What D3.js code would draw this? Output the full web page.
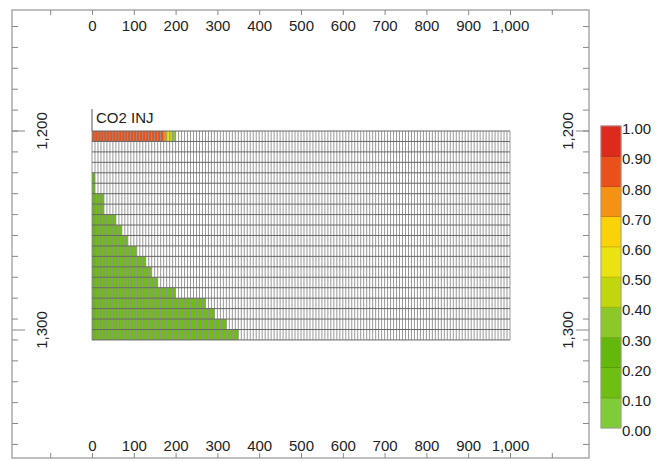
<!DOCTYPE html>
<html><head><meta charset="utf-8">
<script src="https://cdn.jsdelivr.net/npm/d3@7"></script>
<style>body{margin:0;background:#fff}svg{display:block}text{font-family:"Liberation Sans",Arial,sans-serif;fill:#222}</style>
</head><body><svg id="c" width="663" height="461"></svg>
<script>
// ---- data ----
const xTickValues = [-100,0,100,200,300,400,500,600,700,800,900,1000,1100];
const xLabelValues = [0,100,200,300,400,500,600,700,800,900,1000];
const depthLabels = [1200,1300];
const colorBreaks = [0,0.1,0.2,0.3,0.4,0.5,0.6,0.7,0.8,0.9,1.0];
const colorBands = ["#80cc38","#6ebf12","#64b80c","#8cc828","#c2d60e","#ebe213","#fad20a","#f39213","#e9501a","#dd2a1d"];
const nCols = 140, modelWidth = 1000;      // lateral cells
const nRows = 20, rowThick = 5.25;         // vertical cells (m)
const topDepth = 1200;
const topRowValues = [0.85,0.85,0.85,0.85,0.85,0.85,0.85,0.85,0.85,0.85,0.85,0.85,0.85,0.85,0.85,0.85,0.85,0.85,0.85,0.85,0.85,0.85,0.85,0.85,0.75,0.55,0.45,0.35];
const plumeCols = [0,0,0,0,1,1,4,4,8,10,12,15,18,20,22,28,38,41,45,49];
const plumeValue = 0.15, plumeEdgeValue = 0.25;
const wellLabel = "CO2 INJ";

// ---- build cells ----
const colWidth = modelWidth / nCols;
const cells = [];
for (let r = 0; r < nRows; r++) {
  for (let c = 0; c < nCols; c++) {
    let v = null;
    if (r === 0) { if (c < topRowValues.length) v = topRowValues[c]; }
    else if (c < plumeCols[r]) v = (c === 0 ? plumeEdgeValue : plumeValue);
    cells.push({r, c, v});
  }
}

const svg = d3.select("#c");
const x = d3.scaleLinear().domain([0,1000]).range([92,510]);
const y = d3.scaleLinear().domain([1200,1300]).range([131,330]);
const color = d3.scaleThreshold().domain(colorBreaks.slice(1,-1)).range(colorBands);
const fmt = d3.format(",");

const frame = {l:12, t:10, r:589, b:458};
svg.append("rect").attr("x",frame.l).attr("y",frame.t).attr("width",frame.r-frame.l).attr("height",frame.b-frame.t)
  .attr("fill","none").attr("stroke","#aaa").attr("stroke-width",1.5);

// cells
const g = svg.append("g");
g.selectAll("rect.cell").data(cells.filter(d=>d.v!==null)).join("rect")
  .attr("x",d=>x(d.c*colWidth)).attr("y",d=>y(topDepth+d.r*rowThick))
  .attr("width",x(colWidth)-x(0)).attr("height",y(topDepth+rowThick)-y(topDepth))
  .attr("fill",d=>color(d.v));
// grid lines
g.selectAll("line.v").data(d3.range(nCols+1)).join("line")
  .attr("x1",d=>x(d*colWidth)).attr("x2",d=>x(d*colWidth))
  .attr("y1",y(topDepth)).attr("y2",y(topDepth+nRows*rowThick))
  .attr("stroke","#8c8c8c").attr("stroke-width",0.9);
g.selectAll("line.h").data(d3.range(nRows+1)).join("line")
  .attr("y1",d=>y(topDepth+d*rowThick)).attr("y2",d=>y(topDepth+d*rowThick))
  .attr("x1",x(0)).attr("x2",x(modelWidth))
  .attr("stroke","#666").attr("stroke-width",1);

// well
svg.append("line").attr("x1",x(0)).attr("x2",x(0)).attr("y1",109).attr("y2",y(topDepth))
  .attr("stroke","#555").attr("stroke-width",1);
svg.append("text").attr("x",x(0)+4).attr("y",123).attr("font-size",15).text(wellLabel);

// x axes
function xAxis(axis, ty){
  const a = svg.append("g").attr("transform",`translate(0,${ty})`)
    .call(axis.tickValues(xTickValues).tickSize(5)
      .tickFormat(d=>xLabelValues.includes(d)?fmt(d):""));
  a.select(".domain").remove();
  a.selectAll(".tick line").attr("stroke","#888");
  a.selectAll(".tick text").attr("font-size",15).attr("fill","#222").attr("font-family","Liberation Sans, Arial, sans-serif");
  return a;
}
xAxis(d3.axisBottom(x).tickPadding(5), frame.t);
xAxis(d3.axisTop(x).tickPadding(2), frame.b);

// y axes
const minorTicks = d3.range(-5,16).map(k=>topDepth + k*2*rowThick);
[[frame.l,1],[frame.r,-1]].forEach(([ax,dir])=>{
  svg.selectAll(null).data(minorTicks).join("line")
    .attr("x1",ax).attr("x2",ax+dir*6).attr("y1",d=>y(d)).attr("y2",d=>y(d))
    .attr("stroke","#888");
  svg.selectAll(null).data(depthLabels).join("line")
    .attr("x1",ax).attr("x2",ax+dir*13).attr("y1",d=>y(d)).attr("y2",d=>y(d))
    .attr("stroke","#888");
});
[42,568].forEach(lx=>{
  svg.selectAll(null).data(depthLabels).join("text")
    .attr("transform",d=>`translate(${lx},${y(d)}) rotate(-90)`)
    .attr("text-anchor","middle").attr("dy","0.35em").attr("font-size",15)
    .text(d=>fmt(d));
});

// colour bar
const cb = d3.scaleLinear().domain([0,1]).range([428,126]);
const cbx = 601, cbw = 20;
svg.selectAll("rect.band").data(colorBands).join("rect")
  .attr("x",cbx).attr("width",cbw)
  .attr("y",(d,i)=>cb(colorBreaks[i+1])).attr("height",(d,i)=>cb(colorBreaks[i])-cb(colorBreaks[i+1]))
  .attr("fill",d=>d).attr("stroke",(d)=>d3.color(d).darker(0.5)).attr("stroke-width",0.8);
svg.append("rect").attr("x",cbx).attr("y",cb(1)).attr("width",cbw).attr("height",cb(0)-cb(1))
  .attr("fill","none").attr("stroke","#aaa").attr("stroke-width",0.8);
svg.selectAll("text.cbl").data(colorBreaks).join("text")
  .attr("x",cbx+cbw+1).attr("y",d=>cb(d)+3).attr("dy","0.35em").attr("font-size",15)
  .text(d=>d.toFixed(2));
</script></body></html>
